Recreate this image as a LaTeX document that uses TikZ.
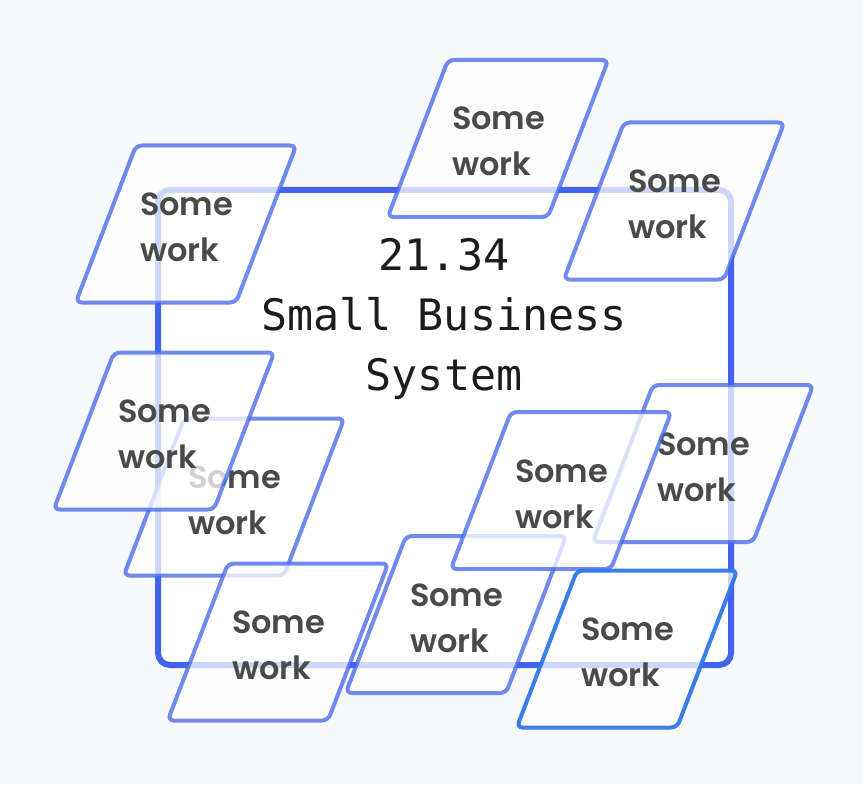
\documentclass[tikz,border=0pt]{standalone}
\usepackage{fontspec}
\usetikzlibrary{shapes.geometric}
\newfontfamily\monofont{DejaVu Sans Mono}
\newfontfamily\workfont{Poppins SemiBold}
\definecolor{bg}{HTML}{F8F9FC}
\definecolor{royal}{HTML}{4263EB}
\definecolor{sky}{HTML}{2F78E8}
\definecolor{ink}{HTML}{4A4A4A}
\definecolor{dark}{HTML}{1C1C1C}
\begin{document}
\begin{tikzpicture}[x=0.75pt,y=-0.75pt,
    sys/.style={rectangle,draw=royal,line width=4.5pt,fill=white,rounded corners=9pt,
      minimum width=429.75pt,minimum height=356.25pt},
    head/.style={align=center,text=dark,font=\monofont\fontsize{32.5}{45}\selectfont},
    w/.style={trapezium,trapezium left angle=69,trapezium right angle=111,
      inner xsep=3pt,inner ysep=0pt,text width=69pt,text height=52.5pt,text depth=65.25pt,
      draw=royal,line width=3pt,draw opacity=0.75,fill=white,fill opacity=0.75,
      text opacity=1,text=ink,rounded corners=4.5pt,align=left,
      font=\workfont\fontsize{24}{34.5}\selectfont},
    xw/.style={w,draw=sky,draw opacity=0.95}]
  \fill[bg] (0,0) rectangle (862,784);
  \useasboundingbox (0,0) rectangle (862,784);
  \node[sys] (sys) at (444.5,427.5) {};
  \node[head] (name) at (444,319) {21.34\\Small Business\\System};
  \node[w] (w1) at (186,224) {Some\\work};
  \node[w] (w2) at (498,138.5) {Some\\work};
  \node[w] (w3) at (674,201) {Some\\work};
  \node[w] (w5) at (234,497) {Some\\work};
  \node[w] (w4) at (164,431) {Some\\work};
  \node[w] (w6) at (278,642) {Some\\work};
  \node[w] (w7) at (456,614.5) {Some\\work};
  \node[w] (w9) at (703,463.5) {Some\\work};
  \node[w] (w8) at (561,490.5) {Some\\work};
  \node[xw] (w10) at (627,649) {Some\\work};
\end{tikzpicture}
\end{document}
